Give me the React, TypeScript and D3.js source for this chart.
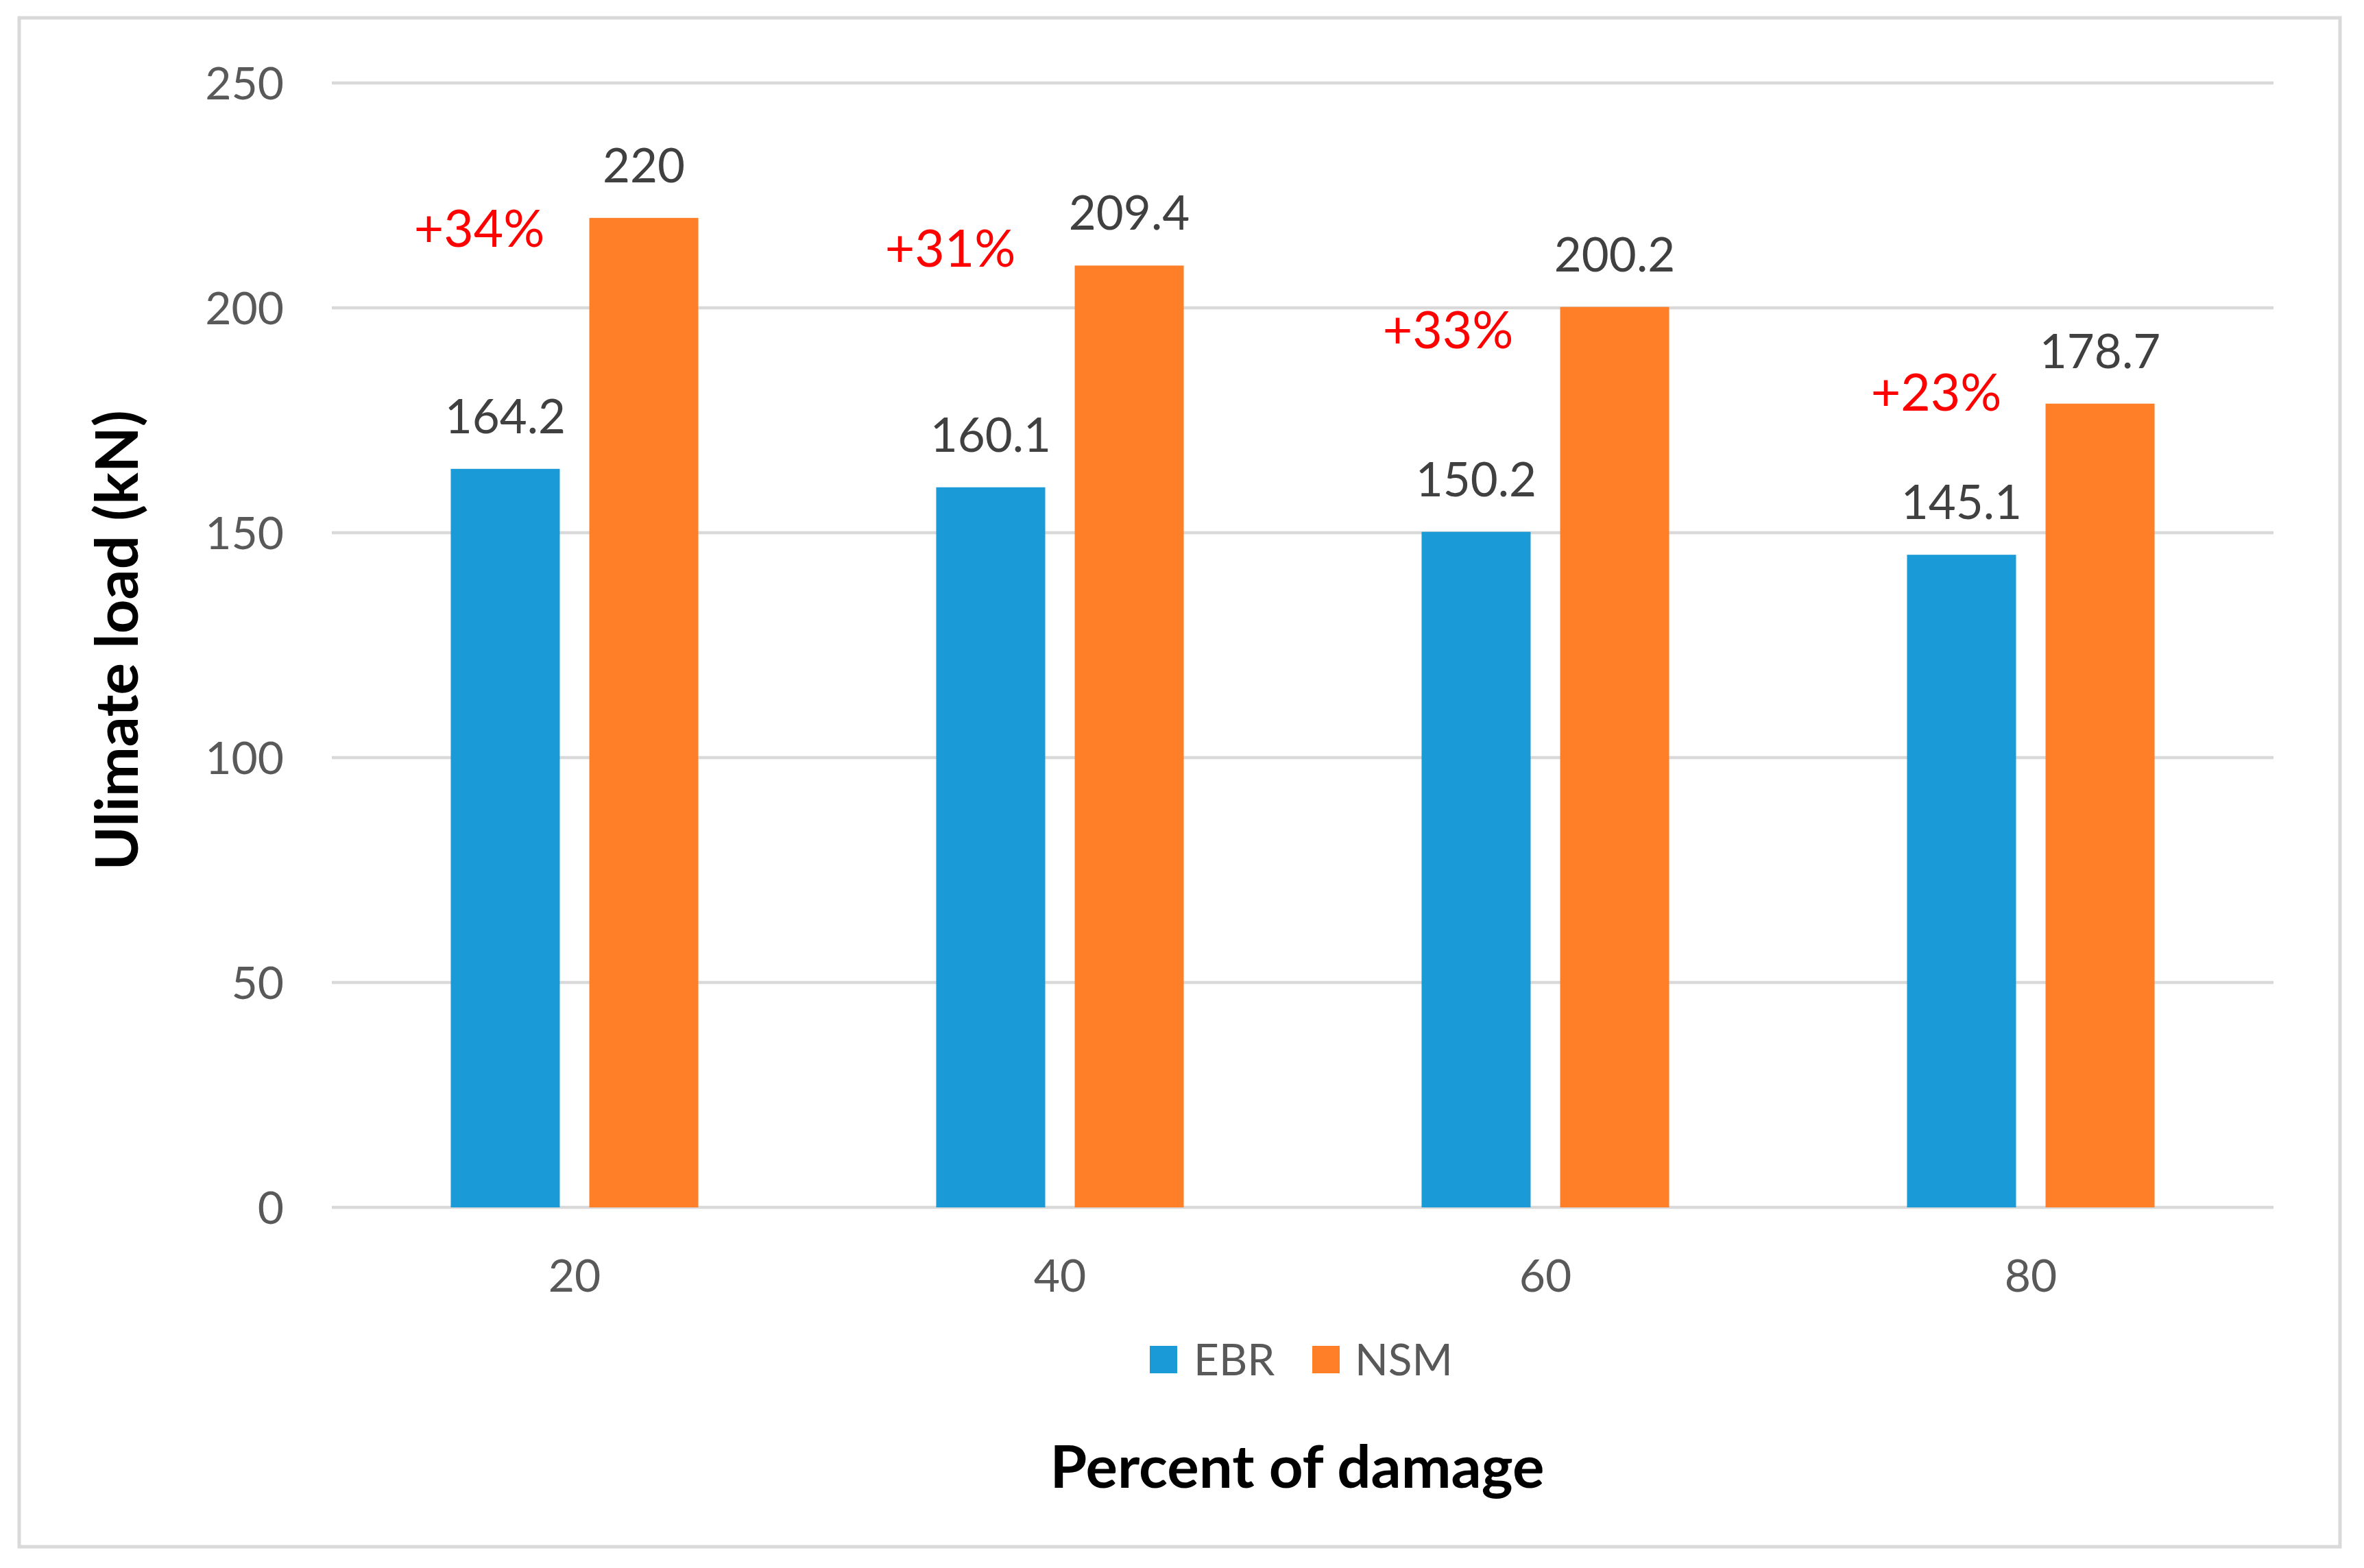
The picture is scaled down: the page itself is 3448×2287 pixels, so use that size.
import React from "react";
import * as d3 from "d3";

const categories = ["20", "40", "60", "80"];
const seriesNames = ["EBR", "NSM"];
const ebrValues = [164.2, 160.1, 150.2, 145.1];
const nsmValues = [220, 209.4, 200.2, 178.7];
const increaseLabels = ["+34%", "+31%", "+33%", "+23%"];
// anchor of each annotation: value (data units) of its baseline
const increaseAnchorValues = [213.6, 209.1, 191.0, 177.1];
const increaseDx = [-38, -59, -41, -37];
const yTicks = [0, 50, 100, 150, 200, 250];

const W = 3448;
const H = 2287;
const colors = ["#1a9bd7", "#fe7f27"];
const FONT = "Lato, 'Open Sans', sans-serif";

export default function App() {
  const x0 = d3.scaleBand<string>().domain(categories).range([484, 3316]).paddingInner(0).paddingOuter(0);
  const groupW = x0.bandwidth() * 0.51;
  const x1 = d3.scaleBand<string>().domain(seriesNames).range([0, groupW]).paddingInner(0.213).paddingOuter(0);
  const y = d3.scaleLinear().domain([0, 250]).range([1761, 121]);
  const series = [ebrValues, nsmValues];

  return (
    <svg width={W} height={H} style={{ position: "absolute", left: 0, top: 0, background: "#fff" }} fontFamily={FONT}>
      <rect x={0} y={0} width={W} height={H} fill="#fff" />
      <rect x={28} y={26} width={3385} height={2230} fill="#fff" stroke="#d9d9d9" strokeWidth={5} />
      {yTicks.map((t) => (
        <g key={t}>
          <line x1={484} x2={3316} y1={y(t)} y2={y(t)} stroke="#d9d9d9" strokeWidth={4.5} />
          <text x={414} y={y(t) + 24} textAnchor="end" fontSize={66} fill="#595959">
            {t}
          </text>
        </g>
      ))}
      {categories.map((c, i) => {
        const gx = (x0(c) as number) + (x0.bandwidth() - groupW) / 2;
        return (
          <g key={c}>
            {series.map((vals, s) => {
              const bx = gx + (x1(seriesNames[s]) as number);
              return (
                <g key={s}>
                  <rect x={bx} y={y(vals[i])} width={x1.bandwidth()} height={y(0) - y(vals[i])} fill={colors[s]} />
                  <text x={bx + x1.bandwidth() / 2} y={y(vals[i]) - 52} textAnchor="middle" fontSize={69} fill="#404040">
                    {vals[i]}
                  </text>
                </g>
              );
            })}
            <text
              x={gx + (x1("EBR") as number) + x1.bandwidth() / 2 + increaseDx[i]}
              y={y(increaseAnchorValues[i])}
              textAnchor="middle"
              fontSize={75}
              fill="#ff0000"
            >
              {increaseLabels[i]}
            </text>
            <text x={(x0(c) as number) + x0.bandwidth() / 2} y={1884} textAnchor="middle" fontSize={66} fill="#595959">
              {c}
            </text>
          </g>
        );
      })}
      {/* legend */}
      <rect x={1677} y={1963} width={40} height={40} fill={colors[0]} />
      <text x={1741} y={2006} fontSize={64} fill="#595959">EBR</text>
      <rect x={1914} y={1963} width={40} height={40} fill={colors[1]} />
      <text x={1976} y={2006} fontSize={64} fill="#595959">NSM</text>
      {/* axis titles */}
      <text x={1892} y={2170} textAnchor="middle" fontSize={87} fontWeight="bold" fill="#000">
        Percent of damage
      </text>
      <text
        transform="translate(167,934) rotate(-90)"
        textAnchor="middle"
        dominantBaseline="central"
        fontSize={87}
        fontWeight="bold"
        fill="#000"
      >
        Ulimate load (kN)
      </text>
    </svg>
  );
}
